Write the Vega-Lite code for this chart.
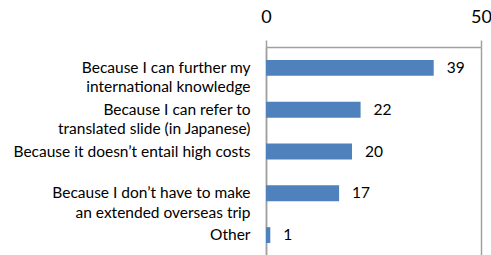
{
  "$schema": "https://vega.github.io/schema/vega-lite/v6.json",
  "autosize": "none",
  "padding": {"left": 266, "top": 47, "right": 10, "bottom": 0},
  "width": 215,
  "height": 209,
  "background": "white",
  "config": {"view": {"stroke": null}, "font": "Lato"},
  "data": {
    "values": [
      {"reason": "Because I can further my|international knowledge", "count": 39},
      {"reason": "Because I can refer to|translated slide (in Japanese)", "count": 22},
      {"reason": "Because it doesn’t entail high costs", "count": 20},
      {"reason": "Because I don’t have to make|an extended overseas trip", "count": 17},
      {"reason": "Other", "count": 1}
    ]
  },
  "encoding": {
    "y": {
      "field": "reason",
      "type": "nominal",
      "sort": null,
      "scale": {"paddingInner": 0.62, "paddingOuter": 0.31},
      "axis": {
        "title": null,
        "ticks": false,
        "domainColor": "#A0A0A0",
        "domainWidth": 1.5,
        "labelExpr": "split(datum.label, '|')",
        "labelLineHeight": 19.5,
        "labelFontSize": 15.5,
        "labelColor": "#000000",
        "labelPadding": 16,
        "labelLimit": 300
      }
    },
    "x": {
      "field": "count",
      "type": "quantitative",
      "scale": {"domain": [0, 50], "nice": false},
      "axis": {
        "orient": "top",
        "title": null,
        "values": [0, 50],
        "tickSize": 7,
        "tickColor": "#A0A0A0",
        "tickWidth": 1.5,
        "domainColor": "#A0A0A0",
        "domainWidth": 1.5,
        "grid": true,
        "gridColor": "#A0A0A0",
        "gridWidth": 1.5,
        "labelFontSize": 18,
        "labelColor": "#000000",
        "labelPadding": 14,
        "labelFlush": false
      }
    }
  },
  "layer": [
    {"mark": {"type": "bar", "color": "#4F81BD"}},
    {
      "mark": {"type": "text", "align": "left", "baseline": "middle", "dx": 13, "fontSize": 15.5, "color": "#000000"},
      "encoding": {"text": {"field": "count", "type": "quantitative"}}
    }
  ]
}
